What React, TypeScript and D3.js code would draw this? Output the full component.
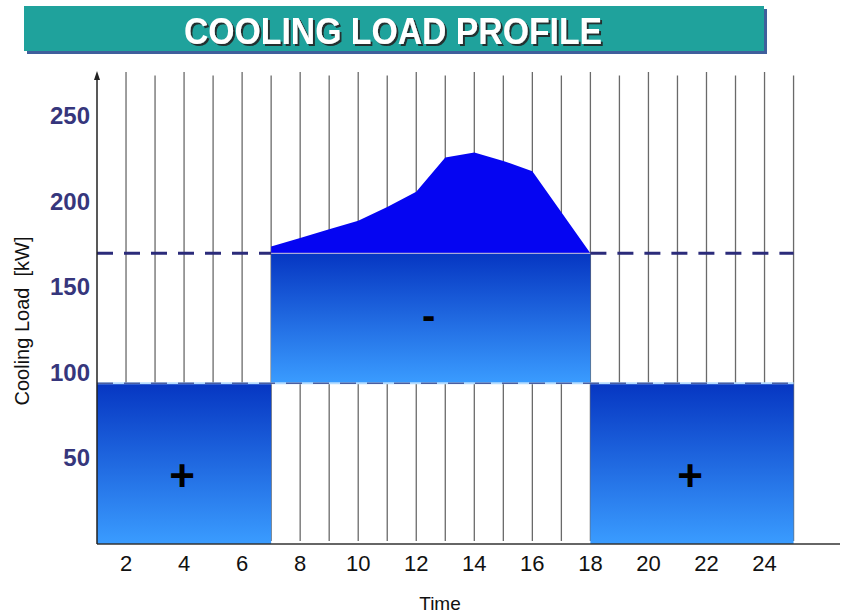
import React, { useRef, useEffect } from "react";
import * as d3 from "d3";

// hourly cooling load during the occupied period (kW)
const peakHours = [7, 8, 9, 10, 11, 12, 13, 14, 15, 16, 18];
const peakLoads = [174, 179, 184, 189, 197, 206, 226, 229, 224, 218, 170];

// storage blocks: [startHour, endHour, lowLoad, highLoad, sign]
const blockStart = [1, 7, 18];
const blockEnd = [7, 18, 25];
const blockLow = [0, 94, 0];
const blockHigh = [94, 170, 94];
const blockSign = ["+", "-", "+"];

const averageLoad = 170;
const chillerLoad = 94;

const yTicks = [50, 100, 150, 200, 250];
const xTicks = [2, 4, 6, 8, 10, 12, 14, 16, 18, 20, 22, 24];
const gridHours = d3.range(2, 26);

const W = 842;
const H = 614;

export default function App() {
  const svgRef = useRef<SVGSVGElement>(null);

  useEffect(() => {
    document.body.style.margin = "0";
    if (!svgRef.current) return;
    const svg = d3.select(svgRef.current);
    svg.selectAll("*").remove();

    const x = d3.scaleLinear().domain([1, 26.6]).range([97, 840]);
    const y = d3.scaleLinear().domain([0, 276]).range([544, 72]);

    const defs = svg.append("defs");
    const grad = defs
      .append("linearGradient")
      .attr("id", "blockGrad")
      .attr("x1", 0)
      .attr("y1", 0)
      .attr("x2", 0)
      .attr("y2", 1);
    grad.append("stop").attr("offset", "0%").attr("stop-color", "#0636c2");
    grad.append("stop").attr("offset", "100%").attr("stop-color", "#3a9cff");

    const shadow = defs.append("filter").attr("id", "titleShadow");
    shadow
      .append("feDropShadow")
      .attr("dx", 2)
      .attr("dy", 2)
      .attr("stdDeviation", 0.6)
      .attr("flood-color", "#222")
      .attr("flood-opacity", 0.9);

    // title banner
    svg
      .append("rect")
      .attr("x", 27)
      .attr("y", 9)
      .attr("width", 740)
      .attr("height", 45)
      .attr("fill", "#3f5f9c");
    svg
      .append("rect")
      .attr("x", 24)
      .attr("y", 6)
      .attr("width", 740)
      .attr("height", 45)
      .attr("fill", "#1fa29c");
    svg
      .append("text")
      .attr("x", 393)
      .attr("y", 44)
      .attr("text-anchor", "middle")
      .attr("textLength", 418)
      .attr("lengthAdjust", "spacingAndGlyphs")
      .attr("filter", "url(#titleShadow)")
      .style("font-family", "'Liberation Sans', Arial, sans-serif")
      .style("font-weight", "bold")
      .style("font-size", "37px")
      .style("fill", "#ffffff")
      .text("COOLING LOAD PROFILE");

    // vertical hour lines
    svg
      .append("g")
      .selectAll("line")
      .data(gridHours)
      .join("line")
      .attr("x1", (d) => x(d))
      .attr("x2", (d) => x(d))
      .attr("y1", (d, i) => (i % 2 ? y(274) : y(276)))
      .attr("y2", y(0) - 3)
      .attr("stroke", "#6a6a6a")
      .attr("stroke-width", 1.3);

    // peak load area above the average line
    const area = d3
      .area<number>()
      .x((d, i) => x(peakHours[i]))
      .y0(y(averageLoad))
      .y1((d) => y(d));
    svg
      .append("path")
      .attr("d", area(peakLoads))
      .attr("fill", "#0505f2");

    // charge / discharge blocks
    const blocks = svg.append("g");
    blockStart.forEach((s, i) => {
      blocks
        .append("rect")
        .attr("x", x(s))
        .attr("y", y(blockHigh[i]))
        .attr("width", x(blockEnd[i]) - x(s))
        .attr("height", y(blockLow[i]) - y(blockHigh[i]))
        .attr("fill", "url(#blockGrad)");
      const cx = (x(s) + x(blockEnd[i])) / 2;
      const cy = (y(blockLow[i]) + y(blockHigh[i])) / 2;
      const plus = blockSign[i] === "+";
      blocks
        .append("text")
        .attr("x", cx - 2)
        .attr("y", cy + (plus ? 27 : 11))
        .attr("text-anchor", "middle")
        .style("font-family", "'Liberation Sans', Arial, sans-serif")
        .style("font-weight", "bold")
        .style("font-size", plus ? "44px" : "40px")
        .style("fill", "#000")
        .text(blockSign[i]);
    });

    // chiller capacity line
    svg
      .append("line")
      .attr("x1", x(1))
      .attr("x2", x(25))
      .attr("y1", y(chillerLoad))
      .attr("y2", y(chillerLoad))
      .attr("stroke", "#b5dcff")
      .attr("stroke-width", 2);
    svg
      .append("line")
      .attr("x1", x(1))
      .attr("x2", x(25))
      .attr("y1", y(chillerLoad))
      .attr("y2", y(chillerLoad))
      .attr("stroke", "#1e2a7a")
      .attr("stroke-width", 1.5)
      .attr("stroke-dasharray", "16,11")
      .attr("opacity", 0.7);

    // average load line
    svg
      .append("line")
      .attr("x1", x(1))
      .attr("x2", x(7))
      .attr("y1", y(averageLoad))
      .attr("y2", y(averageLoad))
      .attr("stroke", "#2b2b7a")
      .attr("stroke-width", 3)
      .attr("stroke-dasharray", "16,11");
    svg
      .append("line")
      .attr("x1", x(7))
      .attr("x2", x(18))
      .attr("y1", y(averageLoad))
      .attr("y2", y(averageLoad))
      .attr("stroke", "#a9a9d8")
      .attr("stroke-width", 1.2);
    svg
      .append("line")
      .attr("x1", x(18))
      .attr("x2", x(25))
      .attr("y1", y(averageLoad))
      .attr("y2", y(averageLoad))
      .attr("stroke", "#2b2b7a")
      .attr("stroke-width", 3)
      .attr("stroke-dasharray", "16,11");

    // axes
    svg
      .append("line")
      .attr("x1", x(1))
      .attr("x2", 840)
      .attr("y1", y(0))
      .attr("y2", y(0))
      .attr("stroke", "#333")
      .attr("stroke-width", 1.5);
    svg
      .append("line")
      .attr("x1", x(1))
      .attr("x2", x(1))
      .attr("y1", y(0))
      .attr("y2", 78)
      .attr("stroke", "#222")
      .attr("stroke-width", 1.5);
    svg
      .append("polygon")
      .attr("points", `${x(1) - 3},80 ${x(1)},71 ${x(1) + 3},80`)
      .attr("fill", "#222");

    svg
      .append("g")
      .selectAll("text")
      .data(yTicks)
      .join("text")
      .attr("x", 90)
      .attr("y", (d) => y(d) + 8)
      .attr("text-anchor", "end")
      .style("font-family", "'Liberation Sans', Arial, sans-serif")
      .style("font-weight", "bold")
      .style("font-size", "24px")
      .style("fill", "#36367c")
      .text((d) => d);

    svg
      .append("g")
      .selectAll("text")
      .data(xTicks)
      .join("text")
      .attr("x", (d) => x(d))
      .attr("y", 571)
      .attr("text-anchor", "middle")
      .style("font-family", "'Liberation Sans', Arial, sans-serif")
      .style("font-size", "22px")
      .style("fill", "#111")
      .text((d) => d);

    svg
      .append("text")
      .attr("x", 440)
      .attr("y", 610)
      .attr("text-anchor", "middle")
      .style("font-family", "'Liberation Sans', Arial, sans-serif")
      .style("font-size", "19px")
      .style("fill", "#111")
      .text("Time");

    svg
      .append("text")
      .attr("transform", "translate(29,321) rotate(-90)")
      .attr("text-anchor", "middle")
      .style("font-family", "'Liberation Sans', Arial, sans-serif")
      .style("font-size", "20px")
      .style("fill", "#111")
      .style("white-space", "pre")
      .text("Cooling Load  [kW]");
  }, []);

  return (
    <svg
      ref={svgRef}
      width={W}
      height={H}
      viewBox={`0 0 ${W} ${H}`}
      style={{ display: "block", background: "#fff" }}
    />
  );
}
